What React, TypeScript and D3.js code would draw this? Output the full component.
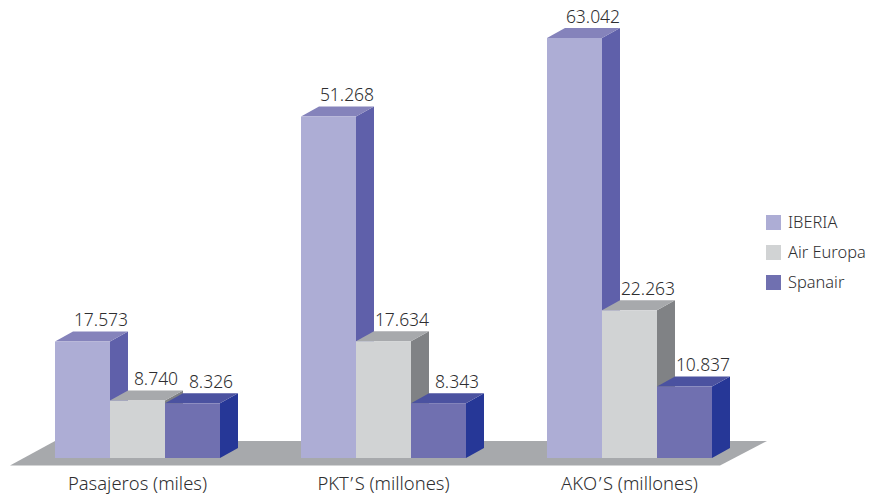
import React from "react";
import * as d3 from "d3";

const categories = ["Pasajeros (miles)", "PKT\u2019S (millones)", "AKO\u2019S (millones)"];
const seriesNames = ["IBERIA", "Air Europa", "Spanair"];
const iberia = [17573, 51268, 63042];
const airEuropa = [8740, 17634, 22263];
const spanair = [8326, 8343, 10837];
const frontColors = ["#adadd5", "#d1d3d4", "#7070b0"];
const topColors = ["#8583bb", "#a7a9ac", "#4b52a0"];
const sideColors = ["#5f60aa", "#808285", "#263797"];
const values = [iberia, airEuropa, spanair];

const fmt = (v: number) => d3.format(",")(v).replace(/,/g, ".");
const FONT = "'Noto Sans', 'Open Sans', sans-serif";
const TEXT = "#2e2e30";

function CategoryLabel({ text, x }: { text: string; x: number }) {
  const parts = text.split("\u2019");
  return (
    <text x={x} y={490} textAnchor="middle" fontSize={18.4} fill={TEXT} style={{ fontKerning: "none" }}>
      {parts.length === 1 ? (
        text
      ) : (
        <>
          <tspan>{parts[0]}</tspan>
          <tspan dx={1.5}>{"\u2019"}</tspan>
          <tspan dx={1.5}>{parts[1]}</tspan>
        </>
      )}
    </text>
  );
}

export default function App() {
  const baseY = 458;
  const dx = 18;
  const dy = 10;
  const y = d3.scaleLinear().domain([0, 63042]).range([458.9, 38]);
  const x0 = d3.scaleBand<string>().domain(categories).range([55, 712]).paddingInner(81 / 246).paddingOuter(0);
  const x1 = d3.scaleBand<string>().domain(seriesNames).range([0, x0.bandwidth()]);
  const line = d3.line();
  const floor = line([[10, 465.5], [55, 441], [767, 441], [720, 465.5]]) + "Z";

  return (
    <svg width={872} height={502} style={{ position: "absolute", left: 0, top: 0, background: "#fff" }} fontFamily={FONT} fontWeight={300}>
      <path d={floor} fill="#a7a9ac" />
      {categories.map((c, ci) => (
        <g key={c}>
          {seriesNames.map((s, si) => {
            const xl = x0(c)! + x1(s)!;
            const xr = xl + x1.bandwidth();
            const t = y(values[si][ci]);
            return (
              <g key={s}>
                <path d={line([[xr, t], [xr + dx, t - dy], [xr + dx, baseY - dy], [xr, baseY]])! + "Z"} fill={sideColors[si]} />
                <path d={line([[xl, t], [xl + dx, t - dy], [xr + dx, t - dy], [xr, t]])! + "Z"} fill={topColors[si]} />
                <rect x={xl} y={t} width={x1.bandwidth()} height={baseY - t} fill={frontColors[si]} />
              </g>
            );
          })}
          {seriesNames.map((s, si) => {
            const xl = x0(c)! + x1(s)!;
            const t = y(values[si][ci]);
            return (
              <text key={s} x={xl + x1.bandwidth() / 2 + 18.5} y={t - 15.5} textAnchor="middle" fontSize={17.5} fill={TEXT}>
                {fmt(values[si][ci])}
              </text>
            );
          })}
          <CategoryLabel text={c} x={x0(c)! + x0.bandwidth() / 2} />
        </g>
      ))}
      {seriesNames.map((s, si) => (
        <g key={s} transform={`translate(766, ${215 + si * 30})`}>
          <rect width={15} height={15} fill={frontColors[si]} />
          <text x={22} y={13} fontSize={16.4} fill={TEXT}>{s}</text>
        </g>
      ))}
    </svg>
  );
}
